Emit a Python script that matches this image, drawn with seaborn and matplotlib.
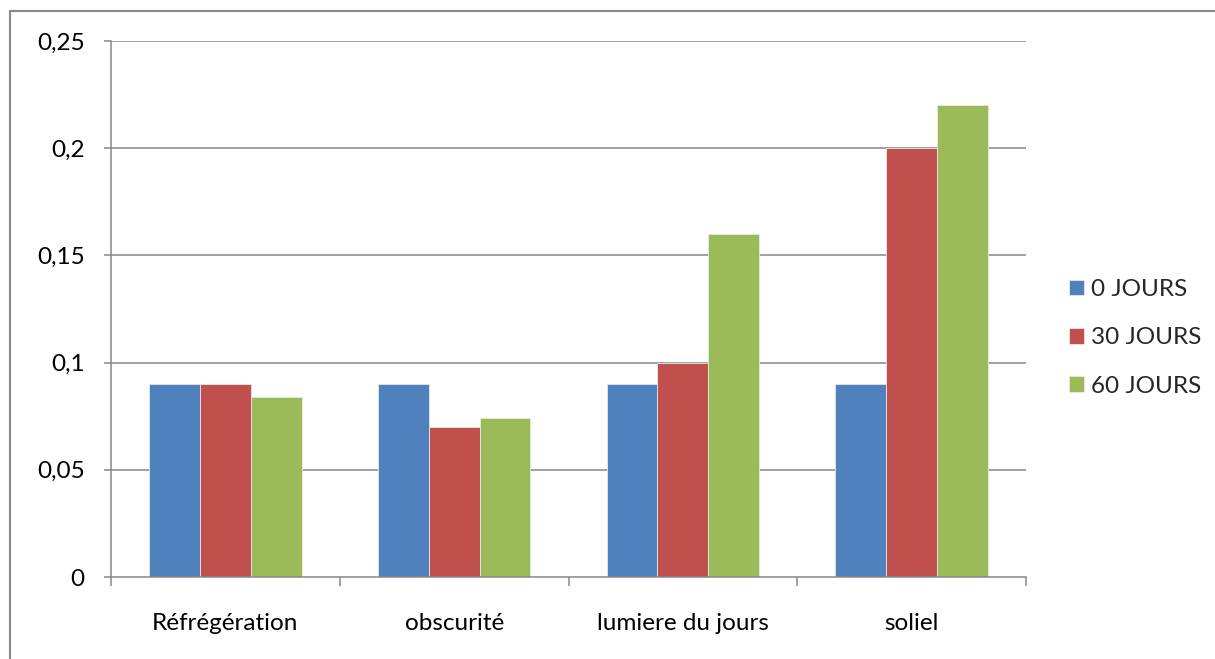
import matplotlib
matplotlib.use("Agg")
import matplotlib.pyplot as plt
from matplotlib.lines import Line2D
import seaborn as sns
import pandas as pd

categories = ["Réfrégération", "obscurité", "lumiere du jours", "soliel"]
series_names = ["0 JOURS", "30 JOURS", "60 JOURS"]
values_0 = [0.09, 0.09, 0.09, 0.09]
values_30 = [0.09, 0.07, 0.10, 0.20]
values_60 = [0.084, 0.074, 0.16, 0.22]
y_ticks = [0, 0.05, 0.10, 0.15, 0.20, 0.25]
y_tick_labels = ["0", "0,05", "0,1", "0,15", "0,2", "0,25"]
colors = ["#4F81BD", "#C0504D", "#9BBB59"]

rows = []
for name, vals in zip(series_names, [values_0, values_30, values_60]):
    for c, v in zip(categories, vals):
        rows.append({"cat": c, "serie": name, "val": v})
df = pd.DataFrame(rows)

sns.set_theme(style="white")
plt.rcParams["font.family"] = ["Lato", "DejaVu Sans"]

FS = 17.5
W, H = 1215, 659
fig = plt.figure(figsize=(W / 100, H / 100), dpi=100)
ax = fig.add_axes([111 / W, 1 - 577 / H, (1026 - 111) / W, (577 - 41) / H])

sns.barplot(data=df, x="cat", y="val", hue="serie", order=categories,
            hue_order=series_names, palette=colors, width=0.667,
            saturation=1, errorbar=None, ax=ax, linewidth=0.6,
            edgecolor="#e8e8e8")

grid_c = "#878787"
ax.set_ylim(0, 0.25)
ax.set_xlim(-0.5, len(categories) - 0.5)
ax.set_yticks(y_ticks)
ax.set_yticklabels(y_tick_labels)
for y in y_ticks[1:]:
    ax.axhline(y, color=grid_c, lw=1.1, zorder=0)
ax.set_axisbelow(True)

for s in ["top", "right"]:
    ax.spines[s].set_visible(False)
for s in ["left", "bottom"]:
    ax.spines[s].set_color(grid_c)
    ax.spines[s].set_linewidth(1.1)

ax.tick_params(axis="y", which="major", left=True, length=5, width=1.1,
               color=grid_c, pad=14, labelsize=FS, labelcolor="black")
ax.set_xticks(range(len(categories)))
ax.set_xticklabels(categories)
ax.tick_params(axis="x", which="major", bottom=False, pad=20,
               labelsize=FS, labelcolor="black")
ax.set_xticks([i - 0.5 for i in range(len(categories) + 1)], minor=True)
ax.tick_params(axis="x", which="minor", bottom=True, length=6.5, width=1.1,
               color=grid_c)

ax.set_xlabel("")
ax.set_ylabel("")

handles, labels = ax.get_legend_handles_labels()
ax.legend(handles, labels, loc="center left", bbox_to_anchor=(1.047, 0.446),
          frameon=False, fontsize=FS, handlelength=0.6, handleheight=0.6,
          handletextpad=0.3, labelspacing=1.12, borderpad=0,
          borderaxespad=0)

border_c = "#888888"
fig.add_artist(Line2D([10 / W, 1.01], [1 - 11 / H, 1 - 11 / H],
                      transform=fig.transFigure, color=border_c, lw=1.5))
fig.add_artist(Line2D([10 / W, 10 / W], [1 - 11 / H, -0.01],
                      transform=fig.transFigure, color=border_c, lw=1.5))

fig.savefig("out.png", dpi=100, facecolor="white")
